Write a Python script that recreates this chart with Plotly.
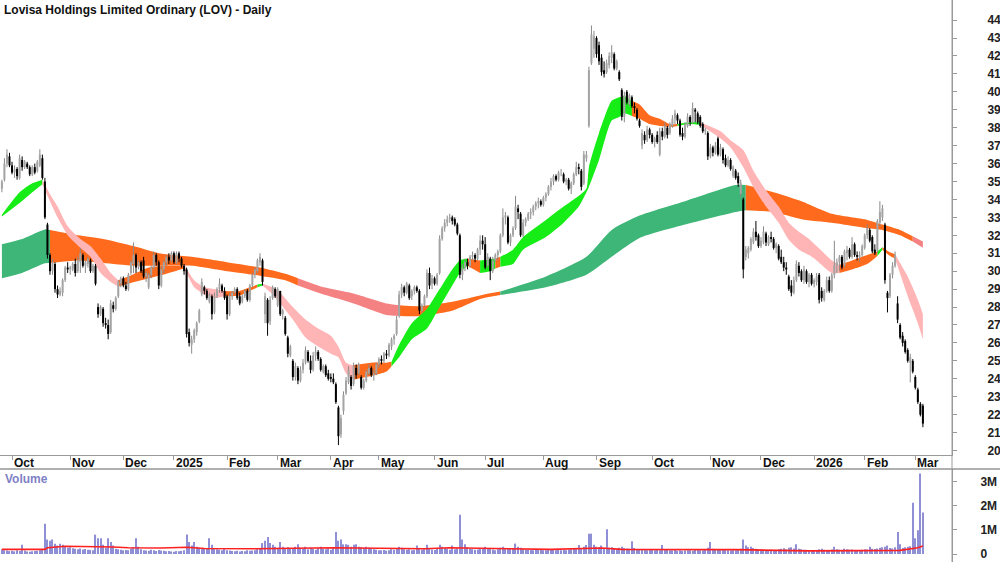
import pandas as pd
import numpy as np
import plotly.graph_objects as go

TITLE = "Lovisa Holdings Limited Ordinary (LOV) - Daily"
START = "2024-09-25"
HOLIDAYS = ["2024-12-25", "2024-12-26", "2025-01-01", "2025-01-27", "2025-04-18",
            "2025-04-21", "2025-04-25", "2025-06-09", "2025-12-25", "2025-12-26",
            "2026-01-01", "2026-01-26"]

opens = [
    34.6, 35.1, 36.0, 36.4, 35.9, 35.5, 35.7, 35.2, 36.2, 35.8,
    36.0, 35.8, 35.4, 35.8, 35.6, 35.9, 36.3, 35.0, 32.6, 30.9,
    30.0, 30.4, 29.0, 28.7, 28.8, 29.5, 30.2, 30.1, 30.1, 30.4,
    30.0, 30.5, 30.9, 30.3, 30.4, 30.6, 30.0, 30.3, 28.0, 27.6,
    27.9, 27.1, 27.0, 26.6, 28.1, 27.9, 28.6, 29.3, 29.6, 29.2,
    29.0, 29.9, 30.4, 30.9, 30.2, 30.5, 30.6, 29.7, 29.1, 29.8,
    30.2, 30.9, 30.5, 29.2, 30.1, 30.5, 30.8, 30.6, 31.0, 30.5,
    31.0, 30.7, 30.3, 30.1, 26.6, 25.9, 26.2, 26.6, 27.2, 28.7,
    29.1, 28.9, 28.3, 28.6, 27.7, 28.6, 29.0, 29.2, 28.9, 28.6,
    27.6, 28.6, 28.8, 29.0, 28.6, 28.3, 28.6, 28.9, 28.4, 29.2,
    29.8, 30.0, 30.5, 30.6, 27.6, 28.4, 27.2, 28.5, 29.0, 28.1,
    28.9, 27.6, 27.4, 26.3, 25.3, 25.0, 24.1, 24.6, 23.9, 24.5,
    24.9, 25.5, 25.0, 24.5, 25.3, 25.5, 25.1, 24.4, 24.7, 24.3,
    24.1, 24.0, 23.7, 22.4, 20.9, 22.2, 23.2, 23.8, 24.1, 23.7,
    24.6, 24.3, 24.1, 23.5, 23.9, 24.3, 24.6, 24.2, 24.3, 24.8,
    25.1, 25.0, 25.4, 25.3, 25.8, 26.2, 26.5, 27.5, 28.7, 29.1,
    28.8, 29.2, 28.6, 28.9, 29.1, 28.9, 27.8, 28.1, 28.6, 29.9,
    29.3, 29.6, 29.3, 29.9, 31.8, 32.4, 32.7, 32.9, 33.0, 32.9,
    32.6, 32.0, 29.8, 30.2, 30.5, 30.3, 30.8, 30.9, 30.7, 31.2,
    31.7, 31.5, 30.3, 30.7, 30.0, 30.6, 30.9, 31.1, 32.0, 33.0,
    33.0, 31.6, 32.0, 32.4, 33.5, 33.2, 32.0, 32.7, 32.9, 33.2,
    33.3, 33.6, 33.8, 33.9, 33.7, 34.1, 34.3, 34.7, 35.0, 35.3,
    35.1, 35.5, 35.4, 35.0, 35.1, 34.6, 34.9, 35.4, 35.8, 35.6,
    34.9, 36.3, 38.1, 41.6, 42.4, 43.0, 42.6, 41.9, 41.2, 41.1,
    41.5, 41.9, 42.1, 41.3, 41.1, 40.1, 38.6, 40.0, 39.3, 39.7,
    39.2, 39.0, 38.4, 37.0, 37.6, 37.3, 37.9, 37.6, 37.2, 37.6,
    36.5, 37.8, 37.5, 38.0, 37.7, 38.1, 38.5, 38.7, 38.4, 37.7,
    37.5, 38.1, 38.6, 38.3, 39.0, 38.8, 38.6, 38.2, 37.8, 37.7,
    36.4, 36.9, 36.6, 37.4, 36.5, 36.8, 36.3, 35.9, 36.2, 35.3,
    35.6, 35.3, 34.3, 34.0, 30.8, 31.0, 31.2, 31.6, 32.2, 32.0,
    31.4, 31.6, 32.1, 31.5, 31.9, 31.8, 31.3, 31.4, 30.8, 30.5,
    30.2, 29.7, 29.2, 28.8, 29.5, 30.3, 30.0, 29.5, 30.0, 29.4,
    29.8, 29.3, 29.4, 29.8, 28.9, 28.4, 28.9, 29.5, 28.9, 29.8,
    30.3, 30.5, 30.8, 30.3, 31.0, 31.2, 30.8, 31.5, 30.9, 30.8,
    30.9, 31.3, 32.0, 32.3, 31.9, 31.2, 31.1, 32.7, 33.0, 32.6,
    28.8, 28.6, 29.8, 30.3, 28.2, 27.0, 26.4, 26.1, 25.6, 24.9,
    25.0, 24.1, 23.4, 22.6, 22.5,
]

highs = [
    35.1, 36.3, 36.8, 36.6, 36.1, 35.9, 35.8, 36.5, 36.4, 36.2,
    36.1, 35.9, 35.9, 36.0, 36.2, 36.8, 36.5, 35.2, 32.7, 31.0,
    30.7, 30.5, 29.2, 29.1, 29.6, 30.3, 30.5, 30.3, 30.5, 30.7,
    30.8, 31.3, 31.0, 30.6, 30.8, 30.7, 30.4, 30.4, 28.2, 28.1,
    28.0, 27.4, 27.3, 28.4, 28.3, 28.6, 29.5, 29.7, 29.7, 29.4,
    29.9, 30.6, 31.6, 31.0, 30.6, 30.6, 30.8, 30.0, 29.9, 30.3,
    31.1, 31.0, 30.6, 30.3, 30.6, 30.9, 31.0, 31.1, 31.1, 31.1,
    31.1, 30.8, 30.4, 30.2, 26.8, 26.4, 26.8, 27.2, 27.9, 29.6,
    29.2, 29.0, 28.8, 28.7, 28.8, 29.1, 29.6, 29.3, 29.1, 28.7,
    28.8, 28.9, 29.1, 29.1, 28.8, 28.7, 29.0, 29.0, 29.3, 29.9,
    30.2, 30.7, 31.0, 30.7, 28.8, 28.5, 28.6, 29.2, 29.1, 29.1,
    28.9, 27.9, 27.5, 26.4, 25.9, 25.1, 24.9, 24.7, 24.7, 25.1,
    25.8, 25.6, 25.3, 25.5, 25.8, 25.6, 25.2, 24.8, 24.8, 24.5,
    24.3, 24.3, 23.8, 22.5, 22.0, 23.3, 24.1, 24.7, 24.2, 24.9,
    24.8, 24.9, 24.2, 24.0, 24.5, 24.8, 24.7, 24.5, 24.9, 25.2,
    25.3, 25.5, 25.6, 26.0, 26.3, 26.5, 27.5, 28.9, 29.3, 29.2,
    29.4, 29.3, 29.0, 29.2, 29.2, 29.0, 28.2, 28.7, 30.1, 30.2,
    29.8, 29.7, 29.9, 32.0, 32.5, 32.9, 33.1, 33.2, 33.1, 33.0,
    32.7, 32.1, 30.4, 30.7, 30.7, 30.9, 31.1, 31.0, 31.3, 32.0,
    32.0, 31.9, 31.0, 30.8, 30.8, 31.0, 31.2, 32.1, 33.5, 33.3,
    33.1, 32.1, 32.5, 34.2, 33.7, 33.3, 32.9, 33.0, 33.3, 33.5,
    33.7, 33.9, 34.1, 34.0, 34.2, 34.4, 34.8, 35.2, 35.4, 35.4,
    35.6, 35.7, 35.5, 35.2, 35.2, 35.0, 35.5, 36.1, 36.0, 35.7,
    36.7, 36.7, 41.4, 43.7, 43.4, 43.1, 42.8, 42.1, 41.7, 41.8,
    42.2, 42.6, 42.2, 41.8, 41.2, 40.2, 40.0, 40.1, 39.9, 39.8,
    39.4, 39.1, 38.5, 37.9, 37.8, 38.1, 38.0, 37.7, 37.5, 37.8,
    38.0, 38.0, 38.3, 38.1, 38.3, 38.7, 39.0, 38.8, 38.5, 38.0,
    38.3, 38.8, 38.7, 39.4, 39.1, 38.9, 38.7, 38.3, 38.0, 37.8,
    37.1, 37.0, 37.2, 37.5, 37.1, 36.9, 36.5, 36.4, 36.3, 35.9,
    35.7, 35.5, 35.1, 34.1, 31.4, 31.4, 31.9, 32.4, 32.8, 32.1,
    31.9, 32.5, 32.2, 32.0, 32.2, 31.9, 31.6, 31.5, 31.2, 30.8,
    30.5, 29.8, 29.5, 29.7, 30.6, 30.5, 30.1, 30.3, 30.1, 29.9,
    29.9, 29.6, 29.9, 29.9, 29.1, 29.0, 29.7, 29.7, 29.9, 31.7,
    30.7, 30.9, 30.9, 31.2, 31.4, 31.3, 31.9, 31.6, 31.1, 31.1,
    31.5, 32.1, 32.6, 32.4, 32.0, 31.5, 32.9, 33.9, 33.7, 32.7,
    28.9, 29.9, 30.5, 31.1, 28.6, 27.1, 26.6, 26.2, 25.7, 25.4,
    25.1, 24.2, 23.5, 22.7, 22.6,
]

lows = [
    34.4, 35.0, 35.8, 35.8, 35.4, 35.2, 35.1, 35.1, 35.6, 35.7,
    35.7, 35.3, 35.3, 35.4, 35.5, 35.8, 35.1, 32.9, 30.7, 29.8,
    29.8, 28.8, 28.5, 28.6, 28.6, 29.4, 29.9, 29.8, 30.0, 29.7,
    29.9, 29.9, 30.2, 29.9, 30.2, 29.9, 29.9, 29.2, 27.4, 27.5,
    26.9, 26.8, 26.2, 26.5, 27.7, 27.8, 28.5, 29.1, 29.1, 28.9,
    28.9, 29.8, 29.9, 29.9, 30.1, 29.9, 29.6, 29.4, 29.0, 29.6,
    30.1, 30.3, 29.0, 29.1, 29.9, 30.3, 30.4, 30.5, 30.4, 30.4,
    30.5, 30.2, 29.8, 26.3, 25.8, 25.4, 26.0, 26.4, 27.1, 28.6,
    28.7, 28.4, 28.2, 27.3, 27.6, 28.5, 28.8, 28.8, 28.4, 27.3,
    27.5, 28.4, 28.7, 28.4, 28.1, 28.2, 28.5, 28.3, 28.3, 29.1,
    29.6, 29.9, 30.3, 29.2, 27.1, 26.4, 27.0, 28.4, 28.5, 28.0,
    27.5, 27.3, 26.4, 25.2, 25.2, 23.9, 23.9, 23.7, 23.8, 24.3,
    24.8, 24.9, 24.3, 24.4, 25.0, 25.0, 24.4, 24.3, 24.1, 23.9,
    23.8, 23.7, 22.6, 20.3, 20.7, 22.0, 23.1, 23.7, 23.4, 23.6,
    24.0, 24.2, 23.4, 23.4, 23.8, 24.2, 24.1, 23.9, 24.2, 24.6,
    24.8, 24.9, 25.1, 25.2, 25.6, 25.9, 26.4, 27.4, 28.5, 28.6,
    28.7, 28.4, 28.4, 28.7, 28.8, 27.6, 27.7, 28.0, 28.5, 29.0,
    29.0, 29.2, 29.2, 29.8, 31.7, 32.2, 32.5, 32.7, 32.6, 32.5,
    32.0, 29.6, 29.5, 30.0, 30.1, 30.2, 30.6, 30.5, 30.6, 30.9,
    31.2, 30.1, 30.2, 29.5, 29.9, 30.5, 30.6, 31.0, 31.9, 32.6,
    31.5, 31.4, 31.9, 32.3, 32.9, 31.9, 31.9, 32.5, 32.8, 32.9,
    33.1, 33.4, 33.5, 33.6, 33.6, 33.9, 34.2, 34.5, 34.8, 35.0,
    35.0, 35.3, 34.9, 34.8, 34.5, 34.3, 34.8, 35.3, 35.4, 34.5,
    34.8, 36.1, 38.0, 41.5, 41.9, 41.9, 41.5, 40.9, 40.8, 41.0,
    41.3, 41.6, 41.2, 41.2, 40.6, 38.4, 38.3, 39.3, 39.2, 39.1,
    38.8, 38.4, 38.0, 36.8, 37.1, 37.2, 37.4, 37.1, 36.9, 37.1,
    36.4, 37.3, 37.4, 37.4, 37.6, 38.0, 38.2, 38.2, 37.5, 37.3,
    37.4, 38.0, 38.1, 38.2, 38.3, 38.2, 38.0, 37.7, 37.6, 36.2,
    36.3, 36.4, 36.5, 36.4, 36.4, 36.0, 35.8, 35.8, 35.6, 35.2,
    35.1, 34.7, 34.1, 29.6, 30.6, 30.7, 31.1, 31.5, 31.7, 31.3,
    31.3, 31.5, 31.4, 31.4, 31.6, 31.2, 31.0, 30.6, 30.4, 30.0,
    29.8, 28.9, 28.6, 28.7, 29.4, 29.7, 29.4, 29.3, 29.3, 29.1,
    29.2, 29.1, 29.2, 28.2, 28.3, 28.3, 28.8, 28.8, 28.8, 29.6,
    29.9, 30.0, 30.1, 30.2, 30.6, 30.7, 30.7, 30.8, 30.6, 30.5,
    30.8, 31.2, 31.8, 31.6, 31.0, 30.9, 31.0, 32.5, 32.8, 29.3,
    27.7, 28.5, 29.6, 30.2, 27.1, 26.2, 25.8, 25.4, 24.9, 23.8,
    24.3, 23.4, 22.6, 21.9, 21.3,
]

closes = [
    35.0, 36.0, 36.5, 35.9, 35.5, 35.7, 35.3, 36.3, 35.8, 36.1,
    35.8, 35.4, 35.8, 35.5, 36.1, 36.5, 35.2, 33.0, 30.9, 30.0,
    30.5, 29.0, 28.7, 28.9, 29.5, 30.2, 30.1, 30.2, 30.4, 29.9,
    30.6, 31.0, 30.3, 30.5, 30.7, 30.0, 30.3, 29.3, 27.6, 28.0,
    27.1, 27.0, 26.5, 28.2, 27.9, 28.5, 29.4, 29.6, 29.2, 29.0,
    29.8, 30.5, 30.9, 30.2, 30.5, 30.0, 29.7, 29.9, 29.8, 30.2,
    30.9, 30.5, 29.2, 30.1, 30.5, 30.8, 30.6, 31.0, 30.5, 31.0,
    30.7, 30.3, 30.0, 26.5, 26.0, 26.2, 26.7, 27.1, 27.8, 29.4,
    28.9, 28.5, 28.7, 27.6, 28.6, 29.0, 29.3, 28.9, 28.5, 27.6,
    28.6, 28.8, 29.0, 28.5, 28.2, 28.6, 28.9, 28.4, 29.2, 29.8,
    30.1, 30.6, 30.8, 29.4, 28.6, 27.1, 28.4, 29.1, 28.6, 29.0,
    27.6, 27.8, 26.5, 25.4, 25.8, 24.1, 24.7, 23.9, 24.5, 24.9,
    25.6, 25.0, 24.5, 25.3, 25.5, 25.1, 24.5, 24.7, 24.2, 24.0,
    24.0, 23.8, 22.7, 20.8, 21.8, 23.1, 23.9, 24.5, 23.6, 24.7,
    24.2, 24.8, 23.5, 23.9, 24.4, 24.6, 24.2, 24.3, 24.8, 25.1,
    25.0, 25.4, 25.3, 25.9, 26.2, 26.4, 27.3, 28.7, 29.1, 28.8,
    29.3, 28.5, 28.9, 29.1, 28.9, 27.8, 28.1, 28.6, 29.9, 29.2,
    29.6, 29.3, 29.8, 31.8, 32.4, 32.7, 32.9, 33.0, 32.8, 32.6,
    32.1, 29.8, 30.2, 30.5, 30.3, 30.8, 30.9, 30.7, 31.2, 31.7,
    31.5, 30.2, 30.8, 30.0, 30.6, 30.9, 31.1, 32.0, 33.0, 33.1,
    31.6, 32.0, 32.4, 33.6, 33.3, 32.0, 32.7, 32.9, 33.2, 33.3,
    33.6, 33.8, 33.9, 33.7, 34.1, 34.3, 34.7, 35.0, 35.3, 35.1,
    35.5, 35.5, 35.0, 35.1, 34.6, 34.9, 35.4, 35.8, 35.7, 34.7,
    36.5, 36.5, 41.2, 43.2, 43.1, 42.1, 41.7, 41.1, 41.0, 41.6,
    42.0, 42.2, 41.3, 41.7, 40.7, 38.6, 39.8, 39.4, 39.8, 39.2,
    39.1, 38.5, 38.1, 37.7, 37.3, 37.9, 37.6, 37.2, 37.4, 37.2,
    37.8, 37.5, 38.1, 37.6, 38.2, 38.5, 38.8, 38.4, 37.6, 37.5,
    38.2, 38.6, 38.3, 39.1, 38.9, 38.3, 38.1, 37.8, 37.9, 36.4,
    36.9, 36.6, 37.0, 36.5, 36.9, 36.2, 35.9, 36.2, 35.7, 35.8,
    35.2, 34.9, 34.9, 30.1, 31.2, 31.3, 31.8, 32.2, 31.9, 31.4,
    31.7, 32.2, 31.6, 31.9, 31.8, 31.3, 31.5, 30.7, 30.5, 30.2,
    30.1, 29.0, 28.8, 29.5, 30.4, 29.9, 29.5, 30.1, 29.4, 29.8,
    29.3, 29.5, 29.7, 28.4, 28.5, 28.9, 29.5, 28.9, 29.8, 30.3,
    30.5, 30.8, 30.2, 31.1, 31.2, 30.8, 31.5, 30.9, 30.8, 30.9,
    31.4, 32.0, 32.4, 31.7, 31.1, 31.0, 32.8, 33.3, 33.5, 29.5,
    28.5, 29.8, 30.3, 30.9, 27.3, 26.3, 26.0, 25.5, 25.0, 25.2,
    24.4, 23.5, 22.7, 22.0, 21.5,
]

volume_k = [
    200, 150, 140, 120, 130, 110, 150, 120, 380, 140,
    100, 90, 110, 120, 130, 150, 180, 1250, 600, 550,
    600, 420, 350, 420, 380, 300, 260, 280, 240, 220,
    200, 230, 190, 210, 180, 170, 150, 800, 650, 650,
    380, 260, 650, 500, 350, 220, 200, 180, 150, 170,
    160, 230, 280, 650, 300, 200, 160, 140, 130, 180,
    150, 120, 170, 140, 130, 110, 120, 100, 90, 120,
    110, 130, 150, 810, 500, 350, 500, 300, 260, 220,
    240, 230, 650, 380, 250, 200, 180, 160, 230, 150,
    140, 120, 110, 130, 100, 120, 110, 150, 130, 140,
    160, 200, 250, 450, 550, 700, 450, 380, 300, 260,
    500, 300, 250, 280, 220, 240, 300, 400, 260, 240,
    300, 200, 260, 220, 180, 250, 300, 220, 200, 240,
    180, 260, 910, 550, 600, 400, 400, 380, 300, 380,
    400, 300, 280, 250, 300, 260, 220, 200, 180, 160,
    150, 170, 140, 160, 200, 180, 220, 300, 260, 200,
    180, 200, 160, 170, 350, 220, 180, 200, 380, 220,
    190, 170, 210, 380, 300, 250, 220, 180, 350, 200,
    240, 1620, 600, 400, 280, 220, 200, 180, 190, 210,
    230, 300, 250, 220, 190, 160, 200, 260, 300, 250,
    240, 210, 250, 430, 300, 260, 200, 190, 180, 170,
    160, 180, 200, 170, 150, 160, 180, 200, 170, 160,
    180, 150, 170, 160, 190, 200, 220, 230, 370, 250,
    300, 370, 840, 840, 380, 300, 280, 350, 250, 1020,
    260, 280, 240, 220, 260, 300, 250, 230, 220, 530,
    250, 200, 190, 180, 170, 160, 180, 200, 150, 170,
    160, 370, 200, 180, 160, 150, 170, 140, 150, 130,
    140, 160, 150, 130, 170, 180, 160, 150, 200, 260,
    500, 220, 200, 180, 170, 190, 160, 150, 140, 170,
    160, 180, 220, 600, 350, 280, 300, 250, 220, 200,
    190, 180, 170, 160, 180, 150, 170, 200, 220, 240,
    200, 260, 280, 230, 400, 220, 200, 180, 170, 160,
    150, 140, 160, 200, 220, 180, 170, 160, 190, 300,
    200, 180, 170, 220, 200, 180, 190, 160, 150, 170,
    180, 200, 190, 300, 220, 210, 230, 260, 280, 300,
    350, 250, 230, 280, 910, 400, 250, 280, 300, 320,
    2120, 650, 980, 3320, 1710,
]

# Volume moving-average line (bar index, millions)
vol_ma_idx = [0, 17, 18, 25, 44, 50, 63, 73, 80, 100, 131, 167, 177, 197, 217,
              237, 245, 290, 319, 355, 360, 362, 364]
vol_ma_m = [0.19, 0.19, 0.26, 0.32, 0.29, 0.26, 0.25, 0.28, 0.23, 0.22, 0.26, 0.22,
            0.26, 0.22, 0.19, 0.25, 0.19, 0.18, 0.13, 0.15, 0.22, 0.26, 0.33]

# Short-term ribbon (bar index, upper, lower, colour state of following stretch)
short_idx = [0, 7, 12, 16, 19, 22, 26, 31, 35, 39, 43, 46, 50, 58, 66, 72, 74, 76, 80, 84,
             88, 94, 98, 101, 103, 107, 110, 115, 120, 125, 130, 133, 136, 139, 146, 152,
             154, 157, 162, 168, 173, 178, 181, 184, 189, 193, 195, 197, 202, 206, 215,
             222, 228, 231, 232, 236, 241, 244, 246, 249, 252, 256, 260, 264, 267, 272,
             276, 284, 288, 293, 297, 302, 307, 311, 315, 319, 322, 328, 331, 336, 342,
             346, 348, 351, 353, 358, 362, 364]
short_top = [33.15, 34.4, 34.9, 35.1, 34.3, 33.6, 32.5, 31.8, 31.4, 30.7, 29.9, 29.5, 29.7,
             30.2, 30.3, 30.3, 29.9, 29.5, 29.1, 29.0, 28.9, 28.9, 29.1, 29.25, 29.3, 29.1,
             28.8, 28.0, 27.3, 26.8, 26.4, 25.8, 24.9, 24.75, 24.9, 24.9, 24.95, 25.9, 27.1,
             27.9, 29.0, 30.1, 30.6, 30.7, 30.6, 30.65, 30.7, 30.8, 31.2, 31.9, 32.85, 33.6,
             34.2, 34.6, 35.8, 37.7, 39.5, 39.7, 39.75, 39.5, 39.3, 38.7, 38.5, 38.2, 38.2,
             38.3, 38.3, 37.8, 37.3, 36.75, 35.6, 34.5, 33.6, 32.7, 32.2, 31.8, 31.4, 30.6,
             30.35, 30.6, 30.9, 31.1, 31.33, 31.05, 30.95, 29.7, 28.4, 27.6]
short_bot = [33.05, 33.8, 34.4, 34.85, 33.9, 33.0, 32.0, 31.3, 30.8, 29.9, 29.4, 29.15, 29.3,
             29.6, 29.9, 30.15, 29.6, 29.1, 28.7, 28.5, 28.6, 28.65, 28.9, 29.1, 29.2, 28.7,
             28.2, 27.3, 26.3, 25.8, 25.4, 25.2, 24.3, 23.95, 24.15, 24.4, 24.7, 25.2, 26.2,
             26.8, 28.0, 29.2, 29.9, 30.3, 29.9, 30.0, 30.15, 30.25, 30.4, 31.2, 31.9, 32.7,
             33.6, 34.4, 34.7, 36.2, 38.4, 38.6, 38.8, 38.65, 38.5, 38.2, 38.1, 38.05, 38.1,
             38.2, 38.15, 37.4, 36.9, 35.8, 34.7, 33.6, 32.7, 31.75, 31.2, 30.9, 30.6, 29.9,
             29.9, 30.1, 30.4, 30.85, 31.2, 30.85, 30.7, 28.6, 27.1, 26.2]
short_col = ["G", "G", "G", "P", "P", "P", "P", "P", "P", "P", "P", "O", "O", "O", "O", "P",
             "P", "P", "P", "P", "O", "O", "O", "G", "P", "P", "P", "P", "P", "P", "P", "P",
             "P", "O", "O", "O", "G", "G", "G", "G", "G", "G", "G", "O", "G", "G", "O", "G",
             "G", "G", "G", "G", "G", "G", "G", "G", "G", "G", "G", "O", "O", "O", "O", "O",
             "G", "G", "P", "P", "P", "P", "P", "P", "P", "P", "P", "P", "P", "P", "O", "O",
             "O", "G", "O", "O", "P", "P", "P", "P"]

# Long-term ribbon
long_idx = [0, 8, 17, 19, 30, 40, 52, 62, 75, 89, 102, 112, 117, 126, 139, 152, 157, 165,
            178, 189, 197, 215, 231, 241, 252, 270, 290, 294, 305, 316, 328, 342, 348, 355,
            360, 364]
long_top = [31.5, 31.8, 32.33, 32.3, 32.0, 31.8, 31.4, 31.0, 30.8, 30.5, 30.2, 29.85, 29.6,
            29.15, 28.76, 28.2, 28.1, 28.05, 28.3, 28.65, 28.86, 29.7, 30.8, 32.3, 33.1,
            33.9, 34.8, 34.8, 34.4, 33.9, 33.2, 32.86, 32.6, 32.3, 31.95, 31.65]
long_bot = [29.6, 29.9, 30.44, 30.45, 30.6, 30.45, 30.3, 30.3, 30.3, 30.0, 29.75, 29.5, 29.2,
            28.75, 28.2, 27.56, 27.5, 27.5, 27.8, 28.45, 28.67, 29.1, 29.8, 30.8, 31.85,
            32.6, 33.3, 33.4, 33.3, 32.9, 32.7, 32.4, 32.3, 32.0, 31.65, 31.3]
long_col = ["D", "D", "D", "O", "O", "O", "O", "O", "O", "O", "O", "O", "R", "R", "R", "R",
            "O", "O", "O", "O", "D", "D", "D", "D", "D", "D", "D", "O", "O", "O", "O", "O",
            "O", "O", "R", "R"]

price_ticks = list(range(20, 45))
vol_tick_vals = [0, 1_000_000, 2_000_000, 3_000_000]
vol_tick_text = ["0", "1M", "2M", "3M"]

PALETTE = {"G": "#16ec16", "P": "#ffb5b5", "O": "#ff6a1c", "D": "#3db677", "R": "#f48282"}
FONT = "Liberation Sans Narrow, Arial Narrow, Liberation Sans, Arial, sans-serif"

N = len(closes)
assert len(opens) == N and len(highs) == N and len(lows) == N and len(volume_k) == N, \
    (len(opens), len(highs), len(lows), len(closes), len(volume_k))

# trading calendar
days = pd.bdate_range(START, periods=N + 40)
days = days[~days.isin(pd.to_datetime(HOLIDAYS))][:N]
month_idx, month_lab = [], []
for i in range(1, N):
    if days[i].month != days[i - 1].month:
        month_idx.append(i)
        month_lab.append(str(days[i].year) if days[i].month == 1 else days[i].strftime("%b"))

xs = list(range(N))
fig = go.Figure()


def add_ribbon(idx, top, bot, codes):
    n = len(idx)
    start = 0
    for k in range(1, n):
        if codes[k] != codes[start] or k == n - 1:
            sl = slice(start, k + 1)
            fig.add_trace(go.Scatter(x=idx[sl], y=bot[sl], mode="lines",
                                     line=dict(width=0, shape="spline", smoothing=0.6),
                                     hoverinfo="skip", showlegend=False))
            fig.add_trace(go.Scatter(x=idx[sl], y=top[sl], mode="lines",
                                     line=dict(width=0, shape="spline", smoothing=0.6),
                                     fill="tonexty", fillcolor=PALETTE[codes[start]],
                                     hoverinfo="skip", showlegend=False))
            start = k


add_ribbon(long_idx, long_top, long_bot, long_col)
add_ribbon(short_idx, short_top, short_bot, short_col)


def segs(cond, a, b):
    X, Y = [], []
    for i in range(N):
        if cond(i):
            X += [i, i, None]
            Y += [a[i], b[i], None]
    return X, Y


is_up = lambda i: closes[i] >= opens[i]
is_dn = lambda i: closes[i] < opens[i]

for cond, wcol, bcol in ((is_up, "#8a8a8a", "#a4a4a4"), (is_dn, "#000000", "#000000")):
    wx, wy = segs(cond, lows, highs)
    fig.add_trace(go.Scatter(x=wx, y=wy, mode="lines", line=dict(color=wcol, width=1),
                             hoverinfo="skip", showlegend=False))
    bx, by = segs(cond, opens, closes)
    fig.add_trace(go.Scatter(x=bx, y=by, mode="lines", line=dict(color=bcol, width=2),
                             hoverinfo="skip", showlegend=False))

# volume
fig.add_trace(go.Bar(x=xs, y=[v * 1000 for v in volume_k], width=0.45,
                     marker=dict(color="#8f8fd6", line=dict(width=0)),
                     yaxis="y2", showlegend=False, hoverinfo="skip"))
fig.add_trace(go.Scatter(x=vol_ma_idx, y=[v * 1e6 for v in vol_ma_m], mode="lines",
                         line=dict(color="#ff2020", width=1.6), yaxis="y2",
                         showlegend=False, hoverinfo="skip"))

H = 562
PLOT_W = 952
price_bottom = 1 - 455 / H
vol_top = 1 - 469 / H
AX = "#9a9a9a"

for m, lab in zip(month_idx, month_lab):
    fig.add_annotation(x=m, xref="x", y=price_bottom, yref="paper", text=lab,
                       showarrow=False, xanchor="left", yanchor="top", xshift=0, yshift=1,
                       font=dict(family=FONT, size=12, color="#111111", weight="bold"))

fig.add_annotation(x=0, xref="paper", y=1, yref="paper", text=TITLE, showarrow=False,
                   xanchor="left", yanchor="top", xshift=2, yshift=-1,
                   font=dict(family=FONT, size=12, color="#111111", weight="bold"))
fig.add_annotation(x=0, xref="paper", y=vol_top, yref="paper", text="Volume", showarrow=False,
                   xanchor="left", yanchor="top", xshift=3, yshift=-1,
                   font=dict(family=FONT, size=12, color="#7f7fc4", weight="bold"))

# separator under the date labels runs across the full width
fig.add_shape(type="line", xref="paper", yref="paper", x0=0, x1=1000 / PLOT_W,
              y0=vol_top, y1=vol_top, line=dict(color="#606060", width=1))
fig.add_shape(type="line", xref="paper", yref="paper", x0=1, x1=1, y0=0, y1=1,
              line=dict(color=AX, width=1))

fig.update_layout(
    width=1000, height=H, margin=dict(l=0, r=1000 - PLOT_W, t=0, b=0),
    paper_bgcolor="white", plot_bgcolor="white", showlegend=False,
    xaxis=dict(domain=[0, 1], range=[-0.75, 375.5], showgrid=False, zeroline=False,
               showline=True, linecolor=AX, ticks="outside", ticklen=4, tickcolor=AX,
               tickvals=month_idx, showticklabels=False, anchor="y", fixedrange=True),
    yaxis=dict(domain=[price_bottom, 1], range=[19.75, 45.12], side="right",
               showgrid=False, zeroline=False, showline=True, linecolor=AX,
               ticks="outside", ticklen=4, tickcolor=AX, tickvals=price_ticks,
               ticklabelstandoff=28, automargin=False, ticklabeloverflow="allow",
               tickfont=dict(family=FONT, size=12, color="#222222", weight="bold")),
    yaxis2=dict(domain=[0, vol_top], range=[-330000, 3510000], side="right", anchor="x",
                showgrid=False, zeroline=False, showline=True, linecolor=AX,
                ticks="outside", ticklen=4, tickcolor=AX, tickvals=vol_tick_vals,
                ticktext=vol_tick_text, ticklabelstandoff=21, automargin=False,
                ticklabeloverflow="allow",
                tickfont=dict(family=FONT, size=12, color="#222222", weight="bold")),
)

fig.write_html("out.html")
